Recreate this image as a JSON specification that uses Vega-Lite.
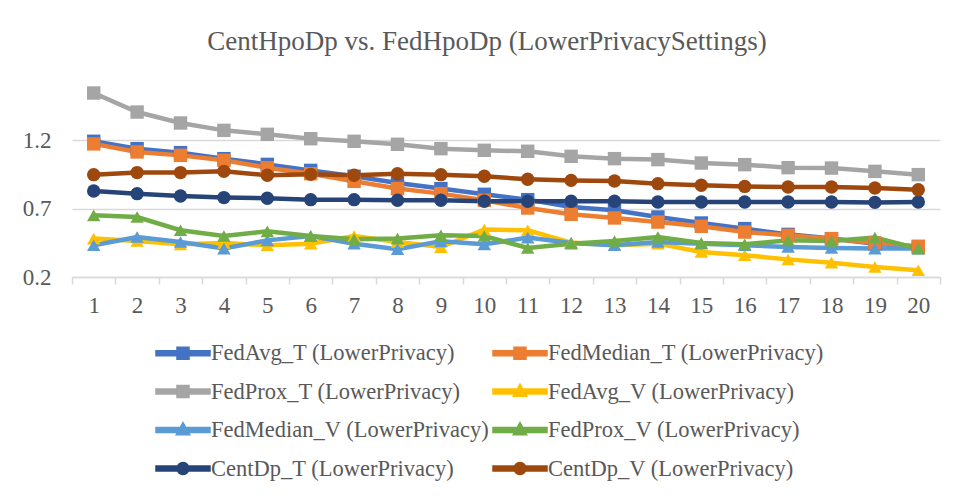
{
"$schema":"https://vega.github.io/schema/vega-lite/v6.json",
"width":868,"height":205,
"autosize":{"type":"none"},
"padding":{"left":72,"top":72,"right":17,"bottom":222},
"background":"white",
"title":{"text":"CentHpoDp vs. FedHpoDp (LowerPrivacySettings)","font":"Liberation Serif","fontSize":27,"fontWeight":"normal","color":"#595959","anchor":"middle","dx":-19,"offset":16},
"config":{"view":{"stroke":null}},
"data":{"values":[
{"series":"FedAvg_T (LowerPrivacy)","round":1,"value":1.193},{"series":"FedAvg_T (LowerPrivacy)","round":2,"value":1.139},{"series":"FedAvg_T (LowerPrivacy)","round":3,"value":1.11},{"series":"FedAvg_T (LowerPrivacy)","round":4,"value":1.066},{"series":"FedAvg_T (LowerPrivacy)","round":5,"value":1.024},{"series":"FedAvg_T (LowerPrivacy)","round":6,"value":0.98},{"series":"FedAvg_T (LowerPrivacy)","round":7,"value":0.937},{"series":"FedAvg_T (LowerPrivacy)","round":8,"value":0.888},{"series":"FedAvg_T (LowerPrivacy)","round":9,"value":0.847},{"series":"FedAvg_T (LowerPrivacy)","round":10,"value":0.805},{"series":"FedAvg_T (LowerPrivacy)","round":11,"value":0.766},{"series":"FedAvg_T (LowerPrivacy)","round":12,"value":0.712},{"series":"FedAvg_T (LowerPrivacy)","round":13,"value":0.688},{"series":"FedAvg_T (LowerPrivacy)","round":14,"value":0.639},{"series":"FedAvg_T (LowerPrivacy)","round":15,"value":0.595},{"series":"FedAvg_T (LowerPrivacy)","round":16,"value":0.554},{"series":"FedAvg_T (LowerPrivacy)","round":17,"value":0.512},{"series":"FedAvg_T (LowerPrivacy)","round":18,"value":0.481},{"series":"FedAvg_T (LowerPrivacy)","round":19,"value":0.444},{"series":"FedAvg_T (LowerPrivacy)","round":20,"value":0.42},
{"series":"FedMedian_T (LowerPrivacy)","round":1,"value":1.174},{"series":"FedMedian_T (LowerPrivacy)","round":2,"value":1.115},{"series":"FedMedian_T (LowerPrivacy)","round":3,"value":1.09},{"series":"FedMedian_T (LowerPrivacy)","round":4,"value":1.054},{"series":"FedMedian_T (LowerPrivacy)","round":5,"value":1.0},{"series":"FedMedian_T (LowerPrivacy)","round":6,"value":0.956},{"series":"FedMedian_T (LowerPrivacy)","round":7,"value":0.9},{"series":"FedMedian_T (LowerPrivacy)","round":8,"value":0.847},{"series":"FedMedian_T (LowerPrivacy)","round":9,"value":0.81},{"series":"FedMedian_T (LowerPrivacy)","round":10,"value":0.761},{"series":"FedMedian_T (LowerPrivacy)","round":11,"value":0.705},{"series":"FedMedian_T (LowerPrivacy)","round":12,"value":0.659},{"series":"FedMedian_T (LowerPrivacy)","round":13,"value":0.632},{"series":"FedMedian_T (LowerPrivacy)","round":14,"value":0.602},{"series":"FedMedian_T (LowerPrivacy)","round":15,"value":0.571},{"series":"FedMedian_T (LowerPrivacy)","round":16,"value":0.529},{"series":"FedMedian_T (LowerPrivacy)","round":17,"value":0.505},{"series":"FedMedian_T (LowerPrivacy)","round":18,"value":0.48},{"series":"FedMedian_T (LowerPrivacy)","round":19,"value":0.449},{"series":"FedMedian_T (LowerPrivacy)","round":20,"value":0.425},
{"series":"FedProx_T (LowerPrivacy)","round":1,"value":1.546},{"series":"FedProx_T (LowerPrivacy)","round":2,"value":1.407},{"series":"FedProx_T (LowerPrivacy)","round":3,"value":1.327},{"series":"FedProx_T (LowerPrivacy)","round":4,"value":1.273},{"series":"FedProx_T (LowerPrivacy)","round":5,"value":1.244},{"series":"FedProx_T (LowerPrivacy)","round":6,"value":1.212},{"series":"FedProx_T (LowerPrivacy)","round":7,"value":1.193},{"series":"FedProx_T (LowerPrivacy)","round":8,"value":1.171},{"series":"FedProx_T (LowerPrivacy)","round":9,"value":1.139},{"series":"FedProx_T (LowerPrivacy)","round":10,"value":1.127},{"series":"FedProx_T (LowerPrivacy)","round":11,"value":1.12},{"series":"FedProx_T (LowerPrivacy)","round":12,"value":1.083},{"series":"FedProx_T (LowerPrivacy)","round":13,"value":1.066},{"series":"FedProx_T (LowerPrivacy)","round":14,"value":1.059},{"series":"FedProx_T (LowerPrivacy)","round":15,"value":1.034},{"series":"FedProx_T (LowerPrivacy)","round":16,"value":1.022},{"series":"FedProx_T (LowerPrivacy)","round":17,"value":1.0},{"series":"FedProx_T (LowerPrivacy)","round":18,"value":0.997},{"series":"FedProx_T (LowerPrivacy)","round":19,"value":0.973},{"series":"FedProx_T (LowerPrivacy)","round":20,"value":0.949},
{"series":"FedAvg_V (LowerPrivacy)","round":1,"value":0.481},{"series":"FedAvg_V (LowerPrivacy)","round":2,"value":0.463},{"series":"FedAvg_V (LowerPrivacy)","round":3,"value":0.439},{"series":"FedAvg_V (LowerPrivacy)","round":4,"value":0.449},{"series":"FedAvg_V (LowerPrivacy)","round":5,"value":0.432},{"series":"FedAvg_V (LowerPrivacy)","round":6,"value":0.444},{"series":"FedAvg_V (LowerPrivacy)","round":7,"value":0.5},{"series":"FedAvg_V (LowerPrivacy)","round":8,"value":0.456},{"series":"FedAvg_V (LowerPrivacy)","round":9,"value":0.419},{"series":"FedAvg_V (LowerPrivacy)","round":10,"value":0.547},{"series":"FedAvg_V (LowerPrivacy)","round":11,"value":0.542},{"series":"FedAvg_V (LowerPrivacy)","round":12,"value":0.452},{"series":"FedAvg_V (LowerPrivacy)","round":13,"value":0.432},{"series":"FedAvg_V (LowerPrivacy)","round":14,"value":0.444},{"series":"FedAvg_V (LowerPrivacy)","round":15,"value":0.383},{"series":"FedAvg_V (LowerPrivacy)","round":16,"value":0.359},{"series":"FedAvg_V (LowerPrivacy)","round":17,"value":0.329},{"series":"FedAvg_V (LowerPrivacy)","round":18,"value":0.305},{"series":"FedAvg_V (LowerPrivacy)","round":19,"value":0.273},{"series":"FedAvg_V (LowerPrivacy)","round":20,"value":0.249},
{"series":"FedMedian_V (LowerPrivacy)","round":1,"value":0.432},{"series":"FedMedian_V (LowerPrivacy)","round":2,"value":0.493},{"series":"FedMedian_V (LowerPrivacy)","round":3,"value":0.456},{"series":"FedMedian_V (LowerPrivacy)","round":4,"value":0.408},{"series":"FedMedian_V (LowerPrivacy)","round":5,"value":0.468},{"series":"FedMedian_V (LowerPrivacy)","round":6,"value":0.5},{"series":"FedMedian_V (LowerPrivacy)","round":7,"value":0.444},{"series":"FedMedian_V (LowerPrivacy)","round":8,"value":0.403},{"series":"FedMedian_V (LowerPrivacy)","round":9,"value":0.461},{"series":"FedMedian_V (LowerPrivacy)","round":10,"value":0.439},{"series":"FedMedian_V (LowerPrivacy)","round":11,"value":0.488},{"series":"FedMedian_V (LowerPrivacy)","round":12,"value":0.449},{"series":"FedMedian_V (LowerPrivacy)","round":13,"value":0.432},{"series":"FedMedian_V (LowerPrivacy)","round":14,"value":0.456},{"series":"FedMedian_V (LowerPrivacy)","round":15,"value":0.444},{"series":"FedMedian_V (LowerPrivacy)","round":16,"value":0.432},{"series":"FedMedian_V (LowerPrivacy)","round":17,"value":0.42},{"series":"FedMedian_V (LowerPrivacy)","round":18,"value":0.412},{"series":"FedMedian_V (LowerPrivacy)","round":19,"value":0.408},{"series":"FedMedian_V (LowerPrivacy)","round":20,"value":0.408},
{"series":"FedProx_V (LowerPrivacy)","round":1,"value":0.651},{"series":"FedProx_V (LowerPrivacy)","round":2,"value":0.639},{"series":"FedProx_V (LowerPrivacy)","round":3,"value":0.542},{"series":"FedProx_V (LowerPrivacy)","round":4,"value":0.5},{"series":"FedProx_V (LowerPrivacy)","round":5,"value":0.534},{"series":"FedProx_V (LowerPrivacy)","round":6,"value":0.5},{"series":"FedProx_V (LowerPrivacy)","round":7,"value":0.476},{"series":"FedProx_V (LowerPrivacy)","round":8,"value":0.481},{"series":"FedProx_V (LowerPrivacy)","round":9,"value":0.505},{"series":"FedProx_V (LowerPrivacy)","round":10,"value":0.5},{"series":"FedProx_V (LowerPrivacy)","round":11,"value":0.412},{"series":"FedProx_V (LowerPrivacy)","round":12,"value":0.444},{"series":"FedProx_V (LowerPrivacy)","round":13,"value":0.463},{"series":"FedProx_V (LowerPrivacy)","round":14,"value":0.493},{"series":"FedProx_V (LowerPrivacy)","round":15,"value":0.449},{"series":"FedProx_V (LowerPrivacy)","round":16,"value":0.439},{"series":"FedProx_V (LowerPrivacy)","round":17,"value":0.468},{"series":"FedProx_V (LowerPrivacy)","round":18,"value":0.463},{"series":"FedProx_V (LowerPrivacy)","round":19,"value":0.488},{"series":"FedProx_V (LowerPrivacy)","round":20,"value":0.408},
{"series":"CentDp_T (LowerPrivacy)","round":1,"value":0.829},{"series":"CentDp_T (LowerPrivacy)","round":2,"value":0.81},{"series":"CentDp_T (LowerPrivacy)","round":3,"value":0.793},{"series":"CentDp_T (LowerPrivacy)","round":4,"value":0.781},{"series":"CentDp_T (LowerPrivacy)","round":5,"value":0.776},{"series":"CentDp_T (LowerPrivacy)","round":6,"value":0.766},{"series":"CentDp_T (LowerPrivacy)","round":7,"value":0.766},{"series":"CentDp_T (LowerPrivacy)","round":8,"value":0.761},{"series":"CentDp_T (LowerPrivacy)","round":9,"value":0.761},{"series":"CentDp_T (LowerPrivacy)","round":10,"value":0.754},{"series":"CentDp_T (LowerPrivacy)","round":11,"value":0.754},{"series":"CentDp_T (LowerPrivacy)","round":12,"value":0.754},{"series":"CentDp_T (LowerPrivacy)","round":13,"value":0.754},{"series":"CentDp_T (LowerPrivacy)","round":14,"value":0.749},{"series":"CentDp_T (LowerPrivacy)","round":15,"value":0.749},{"series":"CentDp_T (LowerPrivacy)","round":16,"value":0.749},{"series":"CentDp_T (LowerPrivacy)","round":17,"value":0.749},{"series":"CentDp_T (LowerPrivacy)","round":18,"value":0.749},{"series":"CentDp_T (LowerPrivacy)","round":19,"value":0.746},{"series":"CentDp_T (LowerPrivacy)","round":20,"value":0.749},
{"series":"CentDp_V (LowerPrivacy)","round":1,"value":0.949},{"series":"CentDp_V (LowerPrivacy)","round":2,"value":0.964},{"series":"CentDp_V (LowerPrivacy)","round":3,"value":0.964},{"series":"CentDp_V (LowerPrivacy)","round":4,"value":0.973},{"series":"CentDp_V (LowerPrivacy)","round":5,"value":0.944},{"series":"CentDp_V (LowerPrivacy)","round":6,"value":0.951},{"series":"CentDp_V (LowerPrivacy)","round":7,"value":0.944},{"series":"CentDp_V (LowerPrivacy)","round":8,"value":0.956},{"series":"CentDp_V (LowerPrivacy)","round":9,"value":0.949},{"series":"CentDp_V (LowerPrivacy)","round":10,"value":0.937},{"series":"CentDp_V (LowerPrivacy)","round":11,"value":0.915},{"series":"CentDp_V (LowerPrivacy)","round":12,"value":0.907},{"series":"CentDp_V (LowerPrivacy)","round":13,"value":0.902},{"series":"CentDp_V (LowerPrivacy)","round":14,"value":0.883},{"series":"CentDp_V (LowerPrivacy)","round":15,"value":0.871},{"series":"CentDp_V (LowerPrivacy)","round":16,"value":0.863},{"series":"CentDp_V (LowerPrivacy)","round":17,"value":0.858},{"series":"CentDp_V (LowerPrivacy)","round":18,"value":0.858},{"series":"CentDp_V (LowerPrivacy)","round":19,"value":0.851},{"series":"CentDp_V (LowerPrivacy)","round":20,"value":0.839}
]},
"encoding":{
"x":{"field":"round","type":"ordinal","bandPosition":0.5,"scale":{"type":"band","paddingInner":0,"paddingOuter":0},"axis":{"title":null,"labelAngle":0,"tickBand":"extent","domainColor":"#D9D9D9","domainWidth":1.5,"tickColor":"#D9D9D9","tickWidth":1.5,"tickSize":7,"grid":false,"labelPadding":10,"labelFont":"Liberation Serif","labelFontSize":23,"labelColor":"#595959"}},
"y":{"field":"value","type":"quantitative","scale":{"domain":[0.2,1.7],"nice":false,"zero":false},"axis":{"title":null,"values":[0.2,0.7,1.2],"format":".1f","grid":true,"gridColor":"#D9D9D9","gridWidth":1.5,"domain":false,"ticks":false,"labelPadding":21,"labelFont":"Liberation Serif","labelFontSize":23,"labelColor":"#595959"}},
"color":{"field":"series","type":"nominal","scale":{"domain":["FedAvg_T (LowerPrivacy)","FedMedian_T (LowerPrivacy)","FedProx_T (LowerPrivacy)","FedAvg_V (LowerPrivacy)","FedMedian_V (LowerPrivacy)","FedProx_V (LowerPrivacy)","CentDp_T (LowerPrivacy)","CentDp_V (LowerPrivacy)"],"range":["#4472C4","#ED7D31","#A5A5A5","#FFC000","#5B9BD5","#70AD47","#264478","#9E480E"]},
"legend":{"orient":"none","legendX":95,"legendY":265,"columns":2,"direction":"horizontal","title":null,"padding":0,"labelFont":"Liberation Serif","labelFontSize":22.5,"labelColor":"#595959","labelLimit":0,"labelOffset":12,"symbolSize":900,"rowPadding":10.5,"columnPadding":0,
"encode":{"symbols":{"update":{"shape":{"signal":"indexof(['FedAvg_T (LowerPrivacy)','FedMedian_T (LowerPrivacy)','FedProx_T (LowerPrivacy)'], datum.value) >= 0 ? 'M-1.8,-0.17H1.8V0.17H-1.8Z M-0.4,-0.4H0.4V0.4H-0.4Z' : (indexof(['FedAvg_V (LowerPrivacy)','FedMedian_V (LowerPrivacy)','FedProx_V (LowerPrivacy)'], datum.value) >= 0 ? 'M-1.8,-0.17H1.8V0.17H-1.8Z M0,-0.5L0.45,0.32L-0.45,0.32Z' : 'M-1.8,-0.17H1.8V0.17H-1.8Z M-0.4,0A0.4,0.4 0 1,1 0.4,0A0.4,0.4 0 1,1 -0.4,0Z')"},"fill":{"scale":"color","field":"value"},"stroke":{"value":"transparent"},"opacity":{"value":1}}}}}}
},
"layer":[
{"mark":{"type":"line","strokeWidth":4.5}},
{"transform":[{"filter":"indexof(['FedAvg_T (LowerPrivacy)','FedMedian_T (LowerPrivacy)','FedProx_T (LowerPrivacy)'], datum.series) >= 0"}],"mark":{"type":"point","shape":"square","filled":true,"opacity":1,"size":180}},
{"transform":[{"filter":"indexof(['FedAvg_V (LowerPrivacy)','FedMedian_V (LowerPrivacy)','FedProx_V (LowerPrivacy)'], datum.series) >= 0"}],"mark":{"type":"point","shape":"triangle-up","filled":true,"opacity":1,"size":180}},
{"transform":[{"filter":"indexof(['CentDp_T (LowerPrivacy)','CentDp_V (LowerPrivacy)'], datum.series) >= 0"}],"mark":{"type":"point","shape":"circle","filled":true,"opacity":1,"size":180}}
]
}
